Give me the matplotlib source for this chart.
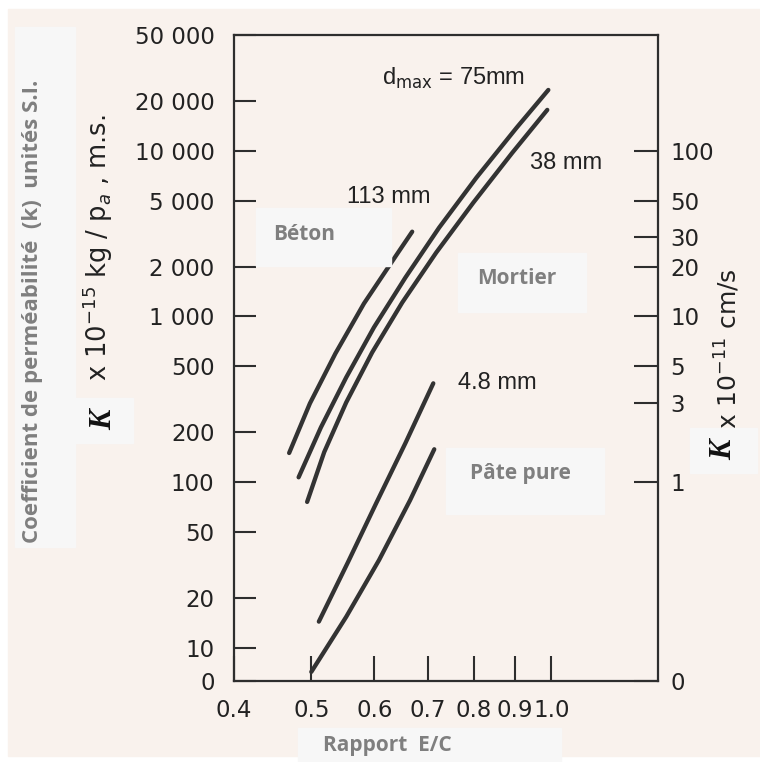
import numpy as np
import matplotlib
matplotlib.use("Agg")
import matplotlib.pyplot as plt
from matplotlib.patches import Rectangle

# rapport E/C and K (x 10^-15 kg/Pa.m.s)
ec_113 = [0.469, 0.498, 0.536, 0.582, 0.641, 0.669]
k_113 = [150, 299, 598, 1197, 2397, 3250]

ec_75 = [0.482, 0.514, 0.553, 0.599, 0.656, 0.723, 0.805, 0.904, 0.991]
k_75 = [107, 214, 429, 859, 1718, 3436, 6874, 13760, 23300]

ec_38 = [0.494, 0.519, 0.553, 0.596, 0.650, 0.717, 0.798, 0.893, 0.988]
k_38 = [76, 152, 303, 607, 1214, 2430, 4864, 9727, 17660]

ec_48 = [0.511, 0.556, 0.603, 0.656, 0.711]
k_48 = [14.4, 33.0, 74.7, 172, 395]

ec_pate = [0.500, 0.553, 0.608, 0.665, 0.713]
k_pate = [2.75, 15.4, 33.9, 77.9, 158]

x_ticks = [0.4, 0.5, 0.6, 0.7, 0.8, 0.9, 1.0]
x_labels = ["0.4", "0.5", "0.6", "0.7", "0.8", "0.9", "1.0"]
y_ticks = [50000, 20000, 10000, 5000, 2000, 1000, 500, 200, 100, 50, 20, 10, 0]
y_labels = ["50 000", "20 000", "10 000", "5 000", "2 000", "1 000", "500",
            "200", "100", "50", "20", "10", "0"]
# right axis: K x 10^-11 cm/s
r_ticks = [100, 50, 30, 20, 10, 5, 3, 1, 0]

W, H = 760, 762
cream = "#f9f2ed"
box_c = "#f7f7f7"
gray_t = "#7f7f7f"
ink = "#2e2e2e"


def fwd(y):
    y = np.asarray(y, float)
    return np.where(y >= 10, np.log10(np.maximum(y, 10)), 1 - 0.02 * (10 - y))


def inv(u):
    u = np.asarray(u, float)
    return np.where(u >= 1, 10 ** np.clip(u, 1, 12), 10 - (1 - u) / 0.02)


def px(x, y):
    return x / W, 1 - y / H


fig = plt.figure(figsize=(W / 100, H / 100), dpi=100, facecolor="white")
fig.patches.append(Rectangle(px(8, 756), (W - 8) / W, (756 - 9) / H,
                             transform=fig.transFigure, color=cream, zorder=-5))

l, r, t, b = 234, 658, 35, 681
ax = fig.add_axes([l / W, 1 - b / H, (r - l) / W, (b - t) / H])
ax.set_zorder(1)
ax.set_facecolor("none")
ax.set_xscale("log")
ax.set_yscale("function", functions=(fwd, inv))
ax.set_xlim(0.4, 1.36)
ax.set_ylim(0, 50000)

lw = 3.1
for xs, ys in [(ec_113, k_113), (ec_75, k_75), (ec_38, k_38), (ec_48, k_48), (ec_pate, k_pate)]:
    ax.plot(xs, ys, color="#333333", lw=lw, solid_capstyle="round", solid_joinstyle="round")

tick_font = dict(family="DejaVu Sans", size=16.5)
ax.set_xticks(x_ticks, labels=x_labels, **tick_font)
ax.set_yticks(y_ticks, labels=y_labels, **tick_font)
ax.xaxis.set_minor_locator(matplotlib.ticker.NullLocator())
ax.yaxis.set_minor_locator(matplotlib.ticker.NullLocator())
ax.tick_params(axis="x", direction="in", length=18, width=1.5, color=ink, pad=13, labelcolor="#222222")
ax.tick_params(axis="y", direction="in", length=16, width=1.5, color=ink, pad=14, labelcolor="#222222")
for s in ax.spines.values():
    s.set_linewidth(1.6)
    s.set_color(ink)

ax2 = ax.twinx()
ax2.set_zorder(2)
ax2.set_yscale("function", functions=(fwd, inv))
ax2.set_ylim(ax.get_ylim())
ax2.set_yticks([v * 100 for v in r_ticks], labels=[str(v) for v in r_ticks], **tick_font)
ax2.yaxis.set_minor_locator(matplotlib.ticker.NullLocator())
ax2.tick_params(axis="y", direction="in", length=17, width=1.5, color=ink, pad=9, labelcolor="#222222")
for s in ax2.spines.values():
    s.set_visible(False)

# annotations on the curves
ann = dict(family="Liberation Sans", size=17, color="#222222", va="center")
fig.text(*px(382, 78), r"d$_{\rm max}$ = 75mm", **ann)
fig.text(*px(530, 163), "38 mm", **ann)
fig.text(*px(347, 197), "113 mm", **ann)
fig.text(*px(458, 383), "4.8 mm", **ann)

# scanned axis titles
fig.text(*px(98, 248), r"x 10$^{-15}$ kg / p$_a$ , m.s.", rotation=90, ha="center", va="center",
         family="DejaVu Sans", size=18.5, color="#222222")
fig.text(*px(728, 349), r"x 10$^{-11}$ cm/s", rotation=90, ha="center", va="center",
         family="DejaVu Sans", size=18, color="#222222")


def box(x0, y0, x1, y1):
    fig.patches.append(Rectangle(px(x0, y1), (x1 - x0) / W, (y1 - y0) / H,
                                 transform=fig.transFigure, color=box_c, zorder=5))


lab = dict(family="Open Sans", weight="bold", color=gray_t, size=15, zorder=6)
box(15, 27, 75, 547)
fig.text(*px(33, 311), "Coefficient de perméabilité  (k)  unités S.I.", rotation=90,
         ha="center", va="center", **dict(lab, size=16))
box(256, 208, 391, 266)
fig.text(*px(273, 234), "Béton", ha="left", va="center", **lab)
box(458, 253, 586, 312)
fig.text(*px(477, 278), "Mortier", ha="left", va="center", **lab)
box(446, 448, 604, 514)
fig.text(*px(470, 473), "Pâte pure", ha="left", va="center", **lab)
box(298, 728, 561, 762)
fig.text(*px(323, 746), "Rapport  E/C", ha="left", va="center", **lab)

kfont = dict(family="Liberation Serif", weight="bold", style="italic", size=22,
             color="#111111", rotation=90, ha="center", va="center", zorder=6)
box(75, 398, 133, 443)
fig.text(*px(104, 420), "K", **kfont)
box(690, 428, 757, 473)
fig.text(*px(724, 450), "K", **kfont)

fig.savefig("out.png", dpi=100, facecolor=fig.get_facecolor())
